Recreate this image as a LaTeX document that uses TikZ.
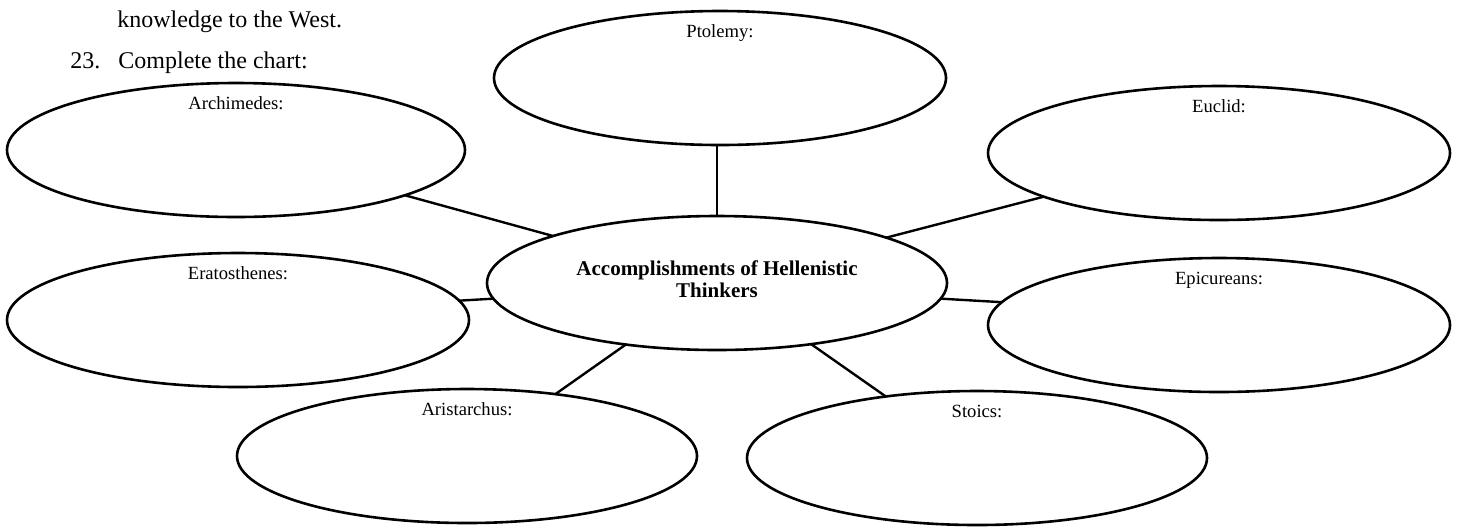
\documentclass[tikz,border=0pt]{standalone}
\usepackage{fontspec}
\setmainfont{Liberation Serif}
\usetikzlibrary{shapes.geometric}

\begin{document}
\begin{tikzpicture}[line cap=round,line join=round,x=0.5pt,y=-0.5pt,
  bubble/.style={draw,ellipse,line width=1.3pt,outer sep=0pt,inner sep=0pt,minimum height=67pt},
  tag/.style={anchor=base,inner sep=0pt,font=\fontsize{9.3}{11}\selectfont},
  head/.style={anchor=base west,inner sep=0pt,font=\fontsize{12}{14}\selectfont},
  link/.style={line width=1.2pt}]
  \useasboundingbox (0,0) rectangle (1460,527);
  \node[head] (prev) at (117,27) {knowledge to the West.};
  \node[head] (task) at (70,68) {23.\hspace{9pt}Complete the chart:};
  % the ellipses
  \foreach \n/\x/\y/\w in {arch/236/150/229,ptol/720/78/226,eucl/1219/153/231,erat/238/320/231,
                          epic/1219/325/231,aris/467/456/230,stoi/977/458/230,cent/717/283/230}
    \node[bubble,minimum width=\w pt] (\n) at (\x,\y) {};
  \node[align=center,inner sep=0pt,font=\fontsize{10.5}{11}\selectfont\bfseries] (ttl)
    at ([yshift=2pt]cent.center) {Accomplishments of Hellenistic\\Thinkers};
  \foreach \n/\t in {arch/Archimedes,ptol/Ptolemy,eucl/Euclid,erat/Eratosthenes,
                     epic/Epicureans,aris/Aristarchus,stoi/Stoics}
    \node[tag] at ([yshift=-13pt]\n.north) {\t:};
  % spokes
  \draw[link] (cent.north) -- (cent.north |- ptol.south);
  \foreach \a/\b in {arch.-15/cent.164,eucl.194/cent.15,erat.5/cent.184,
                     epic.174/cent.-4,aris.35/cent.214,stoi.146/cent.-33}
    \draw[link] (\a) -- (\b);
\end{tikzpicture}
\end{document}
